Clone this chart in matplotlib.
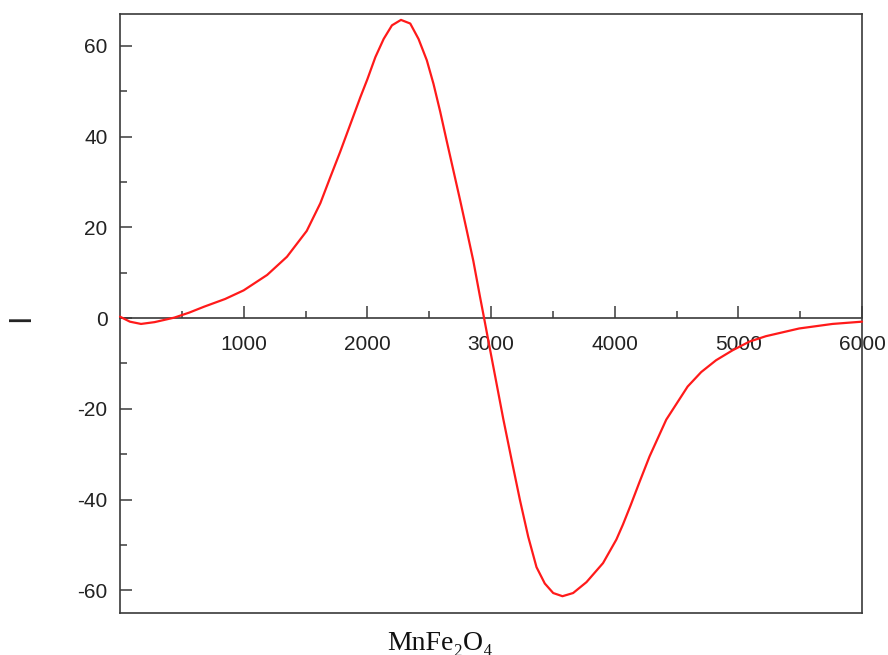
import matplotlib
matplotlib.use("Agg")
import matplotlib.pyplot as plt
from matplotlib.lines import Line2D
from matplotlib.ticker import FixedLocator

plt.rcParams['font.family'] = ['Liberation Sans', 'DejaVu Sans']
plt.rcParams['axes.unicode_minus'] = False

# Data
field = [0, 80, 170, 280, 440, 560, 680, 850, 1000, 1190,
         1350, 1510, 1620, 1700, 1780, 1860, 1944, 2000, 2065, 2132,
         2199, 2272, 2347, 2414, 2481, 2535, 2589, 2642, 2696, 2750,
         2804, 2857, 2911, 2944, 2978, 3032, 3099, 3167, 3234, 3301,
         3368, 3435, 3503, 3578, 3664, 3772, 3906, 4014, 4067, 4130,
         4200, 4282, 4417, 4590, 4700, 4820, 4954, 5089, 5223, 5492,
         5761, 6000]
intensity = [0.3, -0.8, -1.3, -0.9, 0.1, 1.2, 2.5, 4.2, 6.1, 9.5,
             13.5, 19.2, 25.3, 31.0, 36.6, 42.5, 48.7, 52.6, 57.5, 61.5,
             64.5, 65.7, 64.9, 61.5, 56.8, 51.6, 45.5, 39.0, 32.5, 26.0,
             19.3, 12.6, 4.7, 0.0, -4.9, -12.6, -22.2, -31.3, -40.1, -48.2,
             -54.9, -58.5, -60.6, -61.3, -60.6, -58.2, -54.0, -48.8, -45.5, -41.2,
             -36.2, -30.5, -22.4, -15.1, -11.9, -9.3, -7.1, -5.2, -4.0, -2.3,
             -1.3, -0.8]

x_major = [1000, 2000, 3000, 4000, 5000, 6000]
x_minor = [500, 1500, 2500, 3500, 4500, 5500]
y_major = [-60, -40, -20, 0, 20, 40, 60]
y_minor = [-50, -30, -10, 10, 30, 50]
y_labels = ['-60', '-40', '-20', '0', '20', '40', '60']
x_labels = ['1000', '2000', '3000', '4000', '5000', '6000']

spine_col = '#3a3a3a'
lw_sp = 1.2

fig = plt.figure(figsize=(8.88, 6.55), dpi=100)
ax = fig.add_axes([120/888, 1-613/655, 742/888, 599/655])

ax.plot(field, intensity, color='#ff1a1a', lw=1.6, solid_joinstyle='round',
        solid_capstyle='round', clip_on=False, zorder=3)

ax.set_xlim(0, 6000)
ax.set_ylim(-65, 67)

for s in ax.spines.values():
    s.set_color(spine_col)
    s.set_linewidth(lw_sp)
ax.spines['bottom'].set_position(('data', 0))
ax.spines['bottom'].set_zorder(2)
# bottom frame line of the box
ax.add_line(Line2D([0, 1], [0, 0], transform=ax.transAxes, color=spine_col,
                   lw=lw_sp, clip_on=False))

ax.xaxis.set_major_locator(FixedLocator(x_major))
ax.xaxis.set_minor_locator(FixedLocator(x_minor))
ax.set_xticklabels(x_labels)
ax.yaxis.set_major_locator(FixedLocator(y_major))
ax.yaxis.set_minor_locator(FixedLocator(y_minor))
ax.set_yticklabels(y_labels)

ax.tick_params(axis='both', which='major', direction='in', length=8.5, width=1.1,
               color=spine_col, labelsize=15, labelcolor='#222222')
ax.tick_params(axis='both', which='minor', direction='in', length=5, width=1.1,
               color=spine_col)
ax.tick_params(axis='x', which='both', pad=12)
ax.tick_params(axis='y', which='both', pad=9, right=False)
ax.tick_params(axis='x', which='both', top=False)

ax.set_ylabel('I', fontsize=22, color='#222222')
ax.yaxis.set_label_coords(-0.113, 0.4933)

fig.text(440/888, 1-650/655, 'MnFe\u2082O\u2084', ha='center', va='baseline',
         fontsize=20, family=['Liberation Serif', 'DejaVu Serif'], color='#111111')

fig.savefig('out.png', dpi=100)
